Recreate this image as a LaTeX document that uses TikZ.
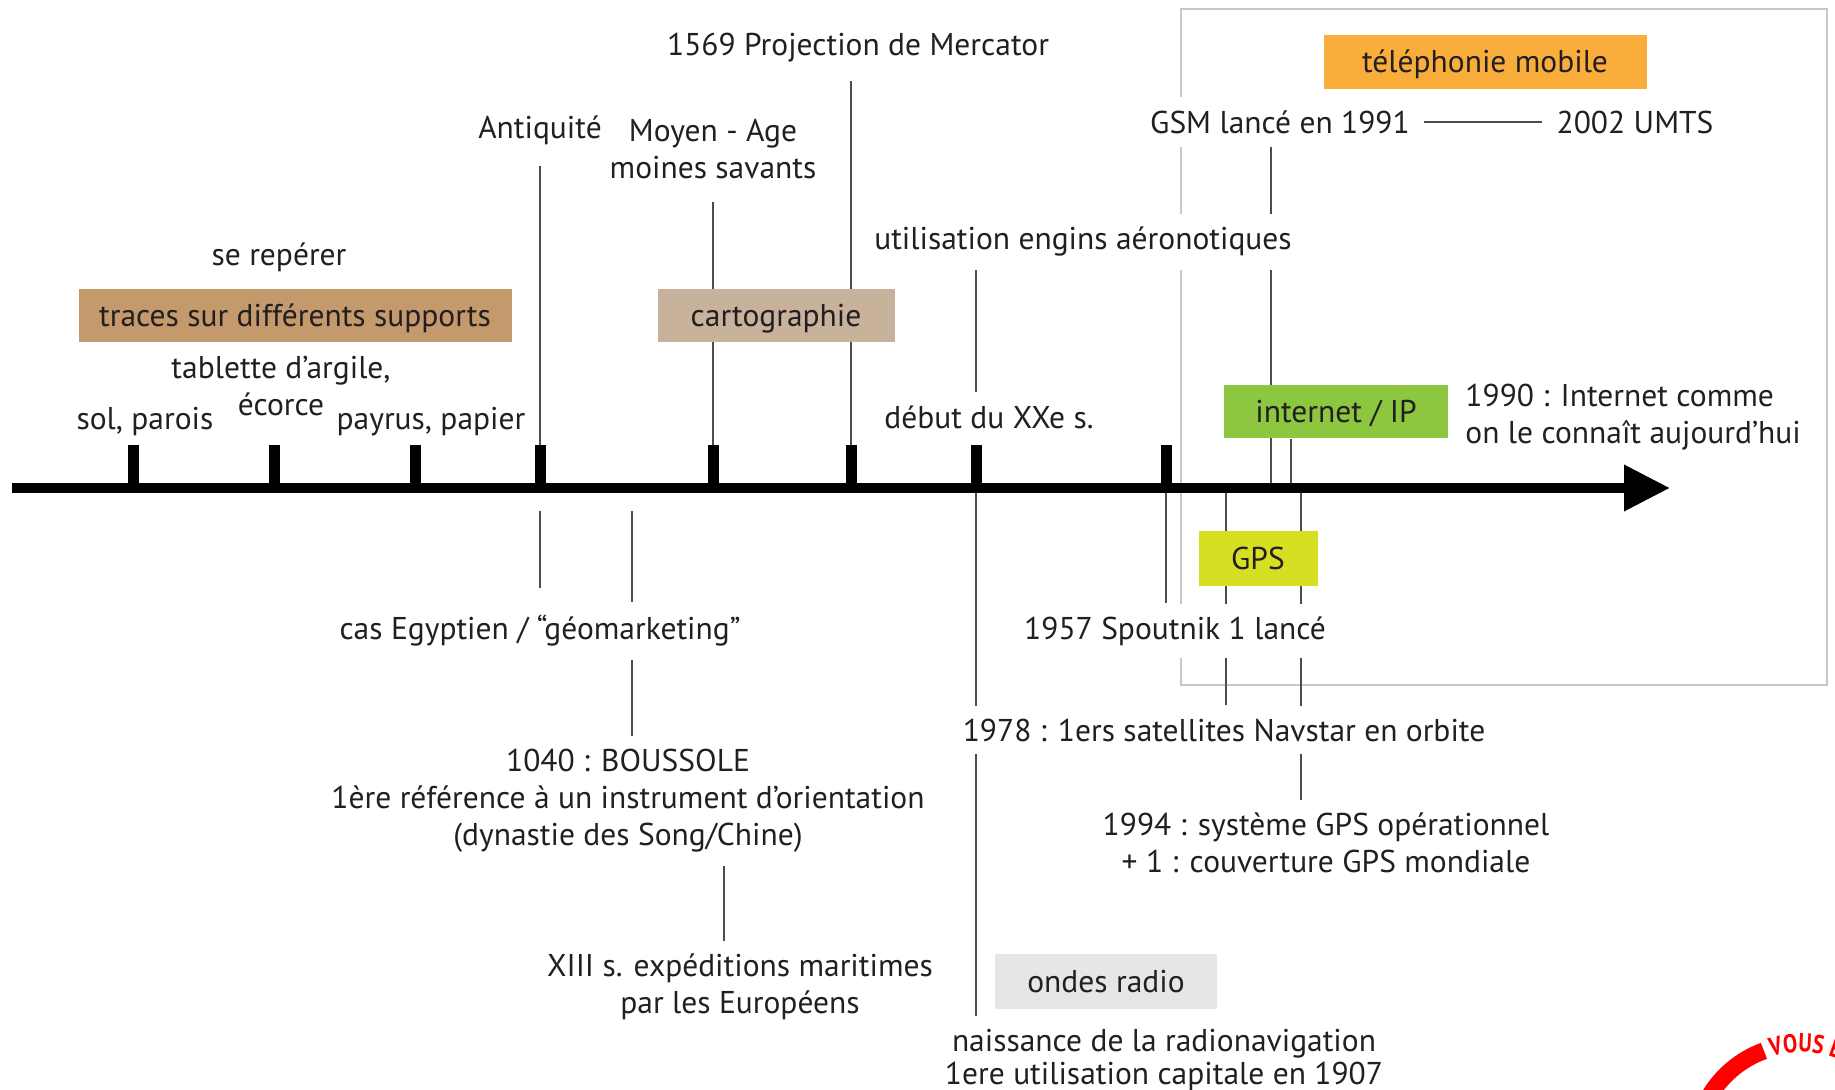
\documentclass[tikz,border=0pt]{standalone}
\usepackage{fontspec}
\setmainfont{PT Sans}
\newfontfamily\logofamily{PT Sans}[FakeStretch=0.82]
\usetikzlibrary{arrows.meta,backgrounds,decorations.text}

\definecolor{tracesbrown}{HTML}{C49A6C}
\definecolor{cartotan}{HTML}{C9B29B}
\definecolor{mobileorange}{HTML}{F9AE3B}
\definecolor{netgreen}{HTML}{8DC63F}
\definecolor{gpsyellow}{HTML}{D7DF23}
\definecolor{radiogray}{HTML}{E6E6E6}
\definecolor{textdark}{HTML}{231F20}
\definecolor{logored}{HTML}{FF0000}

\newcommand\logofont{\logofamily\fontsize{13}{14}\selectfont\bfseries}

\tikzset{
  lbl/.style={inner xsep=3pt, inner ysep=6.5pt, yshift=-2pt, align=center, text=textdark},
  lblw/.style={lbl, fill=white},
  period/.style={inner sep=0pt, minimum height=26.5pt, text height=12.5pt, text depth=1.5pt, text=textdark},
  conn/.style={draw=black!70, line width=1pt},
  axtick/.style={line width=5.5pt},
  timeaxis/.style={line width=5pt, -{Triangle[length=23pt,width=22pt]}},
  zoneframe/.style={draw=black!22, line width=1pt},
  logoarc/.style={draw=logored, line width=8.5pt}
}

\begin{document}
\begin{tikzpicture}[x=0.5pt, y=-0.5pt, font=\fontsize{15.75}{18.5}\selectfont]
\useasboundingbox (0,0) rectangle (1835,1090);

% axe du temps
\coordinate (axstart) at (12,488);
\coordinate (axend) at (1670,488);
\draw[timeaxis] (axstart) -- (axend);
\foreach \x [count=\i] in {133,274,415,540,713,851,976,1166}
  \coordinate (t\i) at (\x,488);
\foreach \i in {1,...,8}
  \draw[axtick] (t\i) -- ++(0,-43);

% au-dessus de l'axe
\node[lbl] (reperer) at (279,253) {se repérer};
\node[period, fill=tracesbrown, minimum width=216.5pt] (traces) at (295,316) {traces sur différents supports};
\node[lbl] (tablette) at (281,382) {tablette d’argile,\\écorce};
\node[lbl] (sol) at (145,418) {sol, parois};
\node[lbl] (papyrus) at (431,418) {payrus, papier};
\node[lbl] (antiq) at (540,126) {Antiquité};
\node[lbl] (moyen) at (713,145) {Moyen - Age\\moines savants};
\node[lbl] (mercator) at (858,44) {1569 Projection de Mercator};
\node[period, fill=cartotan, minimum width=118.5pt] (carto) at (776,316) {cartographie};
\node[lblw] (aero) at (1083,238) {utilisation engins aéronotiques};
\node[lbl] (xxe) at (989,413) {début du XXe s.};

% zone de droite
\node[period, fill=mobileorange, minimum width=161.5pt, minimum height=27pt] (mobile) at (1485,62) {téléphonie mobile};
\node[lblw] (gsm) at (1280,118) {GSM lancé en 1991};
\node[lbl] (umts) at (1635,118) {2002 UMTS};
\node[period, fill=netgreen, minimum width=112pt] (internet) at (1336,412) {internet / IP};
\node[lbl, align=left, anchor=west, inner xsep=0pt] (web) at (1465,413) {1990 : Internet comme\\on le connaît aujourd’hui};
\node[period, fill=gpsyellow, minimum width=59.5pt, minimum height=27.5pt] (gps) at (1258,558) {GPS};
\node[lblw] (spoutnik) at (1175,627) {1957 Spoutnik 1 lancé};
\node[lblw] (navstar) at (1224,726) {1978 : 1ers satellites Navstar en orbite};
\node[lbl] (gpsop) at (1326,839) {1994 : système GPS opérationnel\\+ 1 : couverture GPS mondiale};
\node[period, fill=radiogray, minimum width=111pt, minimum height=27.5pt] (radio) at (1106,981) {ondes radio};
\node[lbl, font=\fontsize{15.75}{16.5}\selectfont] (naissance) at (1164,1056) {naissance de la radionavigation\\1ere utilisation capitale en 1907};

% sous l'axe, a gauche
\node[lblw] (egypt) at (540,627) {cas Egyptien / “géomarketing”};
\node[lbl] (boussole) at (628,797) {1040 : BOUSSOLE\\1ère référence à un instrument d’orientation\\(dynastie des Song/Chine)};
\node[lbl] (xiii) at (740,983) {XIII s. expéditions maritimes\\par les Européens};

\coordinate (cas) at (540,511);
\coordinate (song) at (632,511);
\coordinate (europe) at (724,511);
\coordinate (gsmfoot) at (1271,488);
\coordinate (netfoot) at (1291,488);
\coordinate (gpsa) at (1226,488);
\coordinate (gpsb) at (1301,488);

\begin{scope}[on background layer]
  \draw[zoneframe] (1181,9) rectangle (1827,685);
  \draw[conn, shorten <=4pt] (antiq.south) -- (t4);
  \draw[conn, shorten <=5pt] (moyen.south -| t5) -- (t5);
  \draw[conn, shorten <=2.5pt] (mercator.south -| t6) -- (t6);
  \draw[conn] (aero.south -| t7) -- (xxe.north -| t7);
  \draw[conn] (t7) -- (naissance.north -| t7);
  \draw[conn] (t8) -- (spoutnik.north -| t8);
  \draw[conn, shorten >=7pt] (cas) -- (egypt.north -| cas);
  \draw[conn] (song) -- (boussole.north -| song);
  \draw[conn] (boussole.south -| europe) -- (xiii.north -| europe);
  \draw[conn] (gsm.south -| gsmfoot) -- (gsmfoot);
  \draw[conn] (internet.south -| netfoot) -- (netfoot);
  \draw[conn] (gpsa) -- (navstar.north -| gpsa);
  \draw[conn] (gpsb) -- (gpsop.north -| gpsb);
  \draw[conn, shorten <=4pt, shorten >=4pt] (gsm.east) -- (umts.west);
\end{scope}

% logo coupe en bas a droite
\begin{scope}
  \clip (0,0) rectangle (1835,1090);
  \begin{scope}[shift={(1800,1150)}, y=0.5pt]
    \draw[logoarc] (110:105.5) arc[start angle=110, end angle=175, radius=105.5];
    \path[decorate, decoration={text along path, text color=logored, text={|\logofont|VOUS E}}]
      (107:98) arc[start angle=107, end angle=40, radius=98];
  \end{scope}
\end{scope}
\end{tikzpicture}
\end{document}
